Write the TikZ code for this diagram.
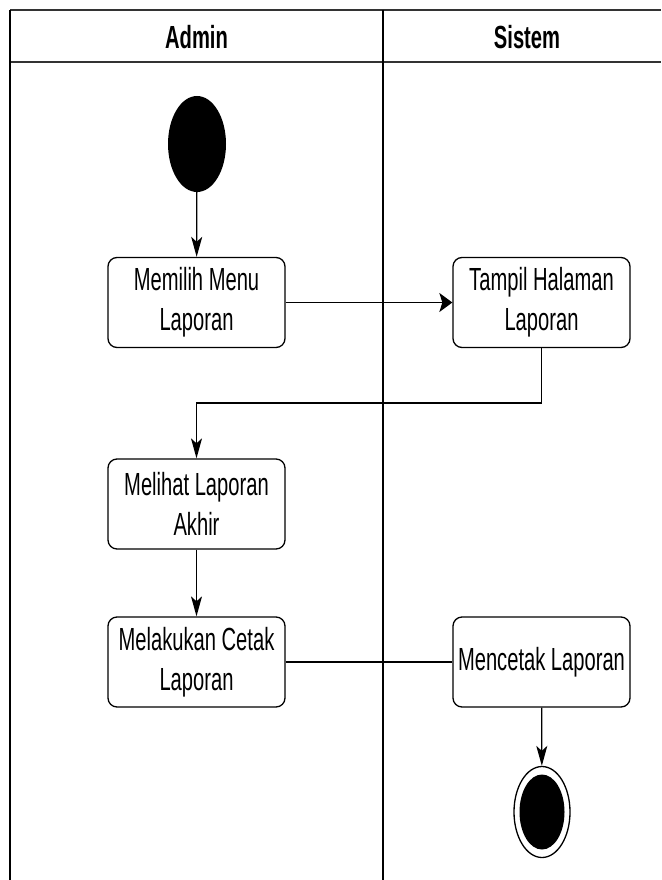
\documentclass[tikz,border=0pt]{standalone}
\usepackage{fontspec}
\setmainfont[FakeStretch=0.63]{Liberation Sans}
\usetikzlibrary{arrows.meta,shapes.geometric}
\begin{document}
\begin{tikzpicture}[x=1pt,y=-1pt,
  lane/.style={line width=1.3pt,black},
  hdr/.style={line width=2pt,black!80},
  act/.style={draw=black,line width=1.3pt,rounded corners=9pt,minimum width=177pt,minimum height=90pt,inner sep=0pt,align=center,font=\fontsize{32}{40}\selectfont},
  title/.style={font=\fontsize{32}{40}\selectfont\bfseries,inner sep=0pt},
  flow/.style={line width=1.3pt,black},
  varr/.style={flow,-{Stealth[length=20pt,width=11pt,inset=5pt]}},
  harr/.style={flow,-{Stealth[length=13pt,width=19pt,inset=3pt]}},
  startnode/.style={ellipse,fill=black,minimum width=58pt,minimum height=96pt,inner sep=0pt},
]
\useasboundingbox (0,0) rectangle (661,880);
% swimlanes
\coordinate (tl) at (10,10);
\coordinate (tr) at (661,10);
\coordinate (hl) at (10,62);
\coordinate (hr) at (661,62);
\coordinate (bl) at (10,880);
\coordinate (dt) at (383,10);
\coordinate (db) at (383,880);
\draw[hdr] (tl) -- (tr);
\draw[hdr] (hl) -- (hr);
\draw[lane] (tl) -- (bl);
\draw[lane] (dt) -- (db);
\node[title] (admin) at (196.5,37) {Admin};
\node[title] (sistem) at (527,37) {Sistem};
% nodes
\node[startnode] (start) at (197,144) {};
\node[act] (m1) at (196.5,302.5) {Memilih Menu\\Laporan};
\node[act] (t1) at (541.5,302.5) {Tampil Halaman\\Laporan};
\node[act] (m2) at (196.5,504) {Melihat Laporan\\Akhir};
\node[act] (m3) at (196.5,662) {Melakukan Cetak\\Laporan};
\node[act] (t2) at (541.5,662) {Mencetak Laporan};
\node[ellipse,draw=black,line width=1.3pt,fill=white,minimum width=56pt,minimum height=91pt,inner sep=0pt] (end) at (542,812) {};
\node[ellipse,fill=black,minimum width=45pt,minimum height=75pt,inner sep=0pt] (endin) at (542,812) {};
% connectors
\draw[varr] (start) -- (m1);
\draw[harr] (m1) -- (t1);
\draw[varr] (t1.south) |- (196.5,403) -- (m2.north);
\draw[varr] (m2) -- (m3);
\draw[flow] (m3) -- (t2);
\draw[varr] (t2) -- (end);
\end{tikzpicture}
\end{document}
